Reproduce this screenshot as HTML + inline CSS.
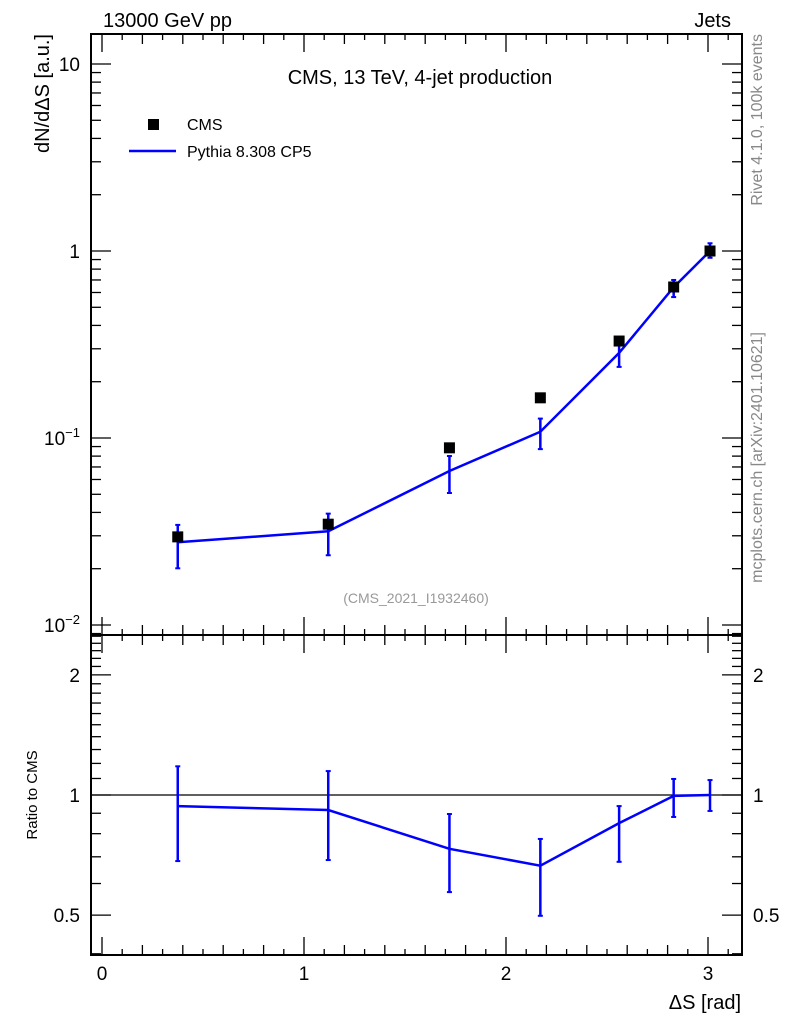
<!DOCTYPE html>
<html><head><meta charset="utf-8"><style>
html,body{margin:0;padding:0;background:#fff;}
svg{display:block;font-family:"Liberation Sans",Arial,sans-serif;}
</style></head><body>
<svg id="chart" width="786" height="1024" viewBox="0 0 786 1024" xmlns="http://www.w3.org/2000/svg">
<g id="g"></g>
</svg>
<script>
const xs = [0.375, 1.12, 1.72, 2.17, 2.56, 2.83, 3.01];
const cmsVals = [0.0296, 0.0346, 0.0886, 0.164, 0.33, 0.642, 1.0];
const mcVals = [0.0277, 0.0317, 0.0666, 0.108, 0.285, 0.64, 1.0];
const mcErrHi = [0.0343, 0.0394, 0.0801, 0.127, 0.347, 0.70, 1.10];
const mcErrLo = [0.0201, 0.0236, 0.0508, 0.0872, 0.24, 0.567, 0.92];
const ratioVals = [0.938, 0.917, 0.733, 0.665, 0.85, 0.995, 1.0];
const ratioHi = [1.18, 1.148, 0.896, 0.776, 0.938, 1.097, 1.09];
const ratioLo = [0.683, 0.687, 0.571, 0.498, 0.68, 0.881, 0.912];
const xTicks = [0, 1, 2, 3];
const yTicks = [10, 1, 0.1, 0.01];
const rTicks = [2, 1, 0.5];

const NS = "http://www.w3.org/2000/svg";
const g = document.getElementById('g');
const L = 91, R = 742, T = 34, M = 635, B = 955;
const X = v => 102 + (v) * 202;
const Y = v => 251 - Math.log10(v) * 187;
const RY = v => 795 - Math.log10(v) * 399;
function el(tag, attrs, parent) { const e = document.createElementNS(NS, tag); for (const k in attrs) e.setAttribute(k, attrs[k]); (parent || g).appendChild(e); return e; }
function line(x1, y1, x2, y2, c, w, name) { const e = el('line', {x1, y1, x2, y2, stroke: c, 'stroke-width': w});   return e; }
function text(x, y, s, size, anchor, fill, name, extra) { const e = el('text', Object.assign({x, y, 'font-size': size, 'text-anchor': anchor, fill}, extra || {})); e.textContent = s;   return e; }

const f1 = el('rect', {x: L, y: T, width: R - L, height: M - T, fill: 'none', stroke: '#000', 'stroke-width': 2});


const f2 = el('rect', {x: L, y: M, width: R - L, height: B - M, fill: 'none', stroke: '#000', 'stroke-width': 2});



for (let i = 0; i <= 31; i++) {
  const v = i / 10; const x = X(v); if (x > R) break;
  const len = (i % 10 === 0) ? 18 : (i % 2 === 0 ? 10 : 6);
  [[T, 1], [M, -1], [M, 1], [B, -1]].forEach(([y, d]) => line(x, y, x, y + d * len, '#000', 1.3, 'x-tick'));
}
xTicks.forEach(v => text(X(v), 980, String(v), 19, 'middle', '#000', 'x-tick-label'));
for (let d = -3; d <= 1; d++) for (let k = 1; k <= 9; k++) {
  const v = k * Math.pow(10, d); const y = Y(v); if (y < T || y > M) continue;
  const len = k === 1 ? 20 : 10;
  line(L, y, L + len, y, '#000', 1.3, 'y-tick'); line(R, y, R - len, y, '#000', 1.3, 'y-tick');
}
text(80, 71, '10', 19, 'end', '#000', 'y-tick-label');
text(80, 258, '1', 19, 'end', '#000', 'y-tick-label');
const t1 = text(80, 445, '10', 19, 'end', '#000', 'y-tick-label'); const s1 = el('tspan', {dy: -8, 'font-size': 13}, t1); s1.textContent = '−1';
const t2 = text(80, 632, '10', 19, 'end', '#000', 'y-tick-label'); const s2 = el('tspan', {dy: -8, 'font-size': 13}, t2); s2.textContent = '−2';
const rt = [0.4,0.5,0.6,0.7,0.8,0.9,1,1.1,1.2,1.3,1.4,1.5,1.6,1.7,1.8,1.9,2,2.1,2.2,2.3,2.4,2.5];
rt.forEach(v => { const y = RY(v); if (y < M || y > B) return; const maj = [0.5,1,2].includes(v); const len = maj ? 20 : 10;
  line(L, y, L + len, y, '#000', 1.3, 'ratio-y-tick'); line(R, y, R - len, y, '#000', 1.3, 'ratio-y-tick'); });
rTicks.forEach(v => { text(80, RY(v) + 7, String(v), 19, 'end', '#000', 'ratio-y-tick-label'); text(753, RY(v) + 7, String(v), 19, 'start', '#000', 'ratio-y-tick-label-right'); });
line(L, RY(1), R, RY(1), '#000', 1.2, 'ratio-reference-line');

const pts = xs.map((x, i) => X(x) + ',' + Y(mcVals[i])).join(' ');
const pl = el('polyline', {points: pts, fill: 'none', stroke: '#0000ff', 'stroke-width': 2.5});


xs.forEach((x, i) => {
  const cx = X(x);
  line(cx, Y(mcErrHi[i]), cx, Y(mcErrLo[i]), '#0000ff', 2.5, 'pythia-error-bar');
  line(cx - 2.5, Y(mcErrHi[i]), cx + 2.5, Y(mcErrHi[i]), '#0000ff', 2, 'pythia-error-cap');
  line(cx - 2.5, Y(mcErrLo[i]), cx + 2.5, Y(mcErrLo[i]), '#0000ff', 2, 'pythia-error-cap');
  const r = el('rect', {x: cx - 5.5, y: Y(cmsVals[i]) - 5.5, width: 11, height: 11, fill: '#000'});
  
  
});
const rpts = xs.map((x, i) => X(x) + ',' + RY(ratioVals[i])).join(' ');
const rl = el('polyline', {points: rpts, fill: 'none', stroke: '#0000ff', 'stroke-width': 2.5});


xs.forEach((x, i) => {
  const cx = X(x);
  line(cx, RY(ratioHi[i]), cx, RY(ratioLo[i]), '#0000ff', 2.5, 'ratio-error-bar');
  line(cx - 2.5, RY(ratioHi[i]), cx + 2.5, RY(ratioHi[i]), '#0000ff', 2, 'ratio-error-cap');
  line(cx - 2.5, RY(ratioLo[i]), cx + 2.5, RY(ratioLo[i]), '#0000ff', 2, 'ratio-error-cap');
});

text(103, 27, '13000 GeV pp', 20, 'start', '#000', 'beam-label');
text(731, 27, 'Jets', 20, 'end', '#000', 'process-label');
text(420, 84, 'CMS, 13 TeV, 4-jet production', 20, 'middle', '#000', 'plot-title');
const lr = el('rect', {x: 148, y: 119, width: 11, height: 11, fill: '#000'});


text(187, 130, 'CMS', 16, 'start', '#000', 'legend-cms-label');
line(129, 151, 176, 151, '#0000ff', 2.5, 'legend-pythia-line');
text(187, 157, 'Pythia 8.308 CP5', 16, 'start', '#000', 'legend-pythia-label');
text(416, 603, '(CMS_2021_I1932460)', 14, 'middle', '#999', 'analysis-id');
text(741, 1009, 'ΔS [rad]', 20, 'end', '#000', 'x-axis-title');
text(0, 0, 'dN/dΔS [a.u.]', 20, 'end', '#000', 'y-axis-title', {transform: 'translate(49,34) rotate(-90)'});
text(0, 0, 'Ratio to CMS', 15, 'middle', '#000', 'ratio-y-axis-title', {transform: 'translate(37,795) rotate(-90)'});
text(0, 0, 'Rivet 4.1.0,  100k events', 16, 'end', '#888', 'rivet-label', {transform: 'translate(762,34) rotate(-90)'});
text(0, 0, 'mcplots.cern.ch [arXiv:2401.10621]', 16, 'end', '#888', 'mcplots-label', {transform: 'translate(762,332) rotate(-90)'});
</script>
</body></html>
